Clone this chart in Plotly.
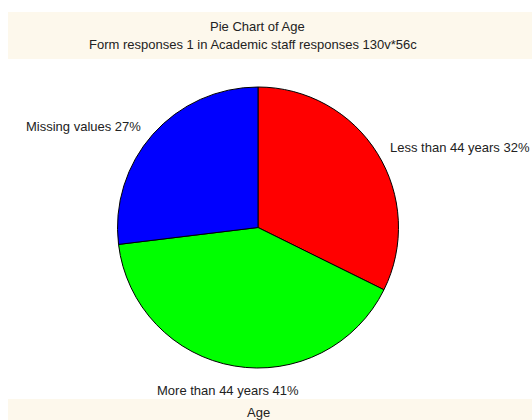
import plotly.graph_objects as go

labels = ["Less than 44 years", "More than 44 years", "Missing values"]
counts = [42, 53, 35]
colors = ["#FF0000", "#00FF00", "#0000FF"]
title = "Pie Chart of Age"
subtitle = "Form responses 1 in Academic staff responses 130v*56c"
xlabel = "Age"

W, H = 532, 420
total = sum(counts)
pct = [round(100 * c / total) for c in counts]

fig = go.Figure(go.Pie(
    labels=labels, values=counts, sort=False, direction="clockwise", rotation=0,
    marker=dict(colors=colors, line=dict(color="#000000", width=1)),
    textinfo="none", hoverinfo="none", showlegend=False,
    domain=dict(x=[117.5 / W, 398.5 / W], y=[(H - 368) / H, (H - 87) / H]),
))

font = dict(family="Liberation Sans, Arial, sans-serif", size=13, color="#222222")
band = "#FDF8EC"
shapes = [
    dict(type="rect", xref="paper", yref="paper", x0=8 / W, x1=1, y0=(H - 59) / H, y1=(H - 12) / H,
         fillcolor=band, line=dict(width=0), layer="below"),
    dict(type="rect", xref="paper", yref="paper", x0=8 / W, x1=1, y0=0, y1=(H - 399) / H,
         fillcolor=band, line=dict(width=0), layer="below"),
]

label_pos = [(460, 147), (227.5, 390), (83, 126)]
annotations = [
    dict(text=title, x=257 / W, y=(H - 27) / H),
    dict(text=subtitle, x=253 / W, y=(H - 45) / H),
    dict(text=xlabel, x=258 / W, y=(H - 412) / H),
]
for lab, p, (px, py) in zip(labels, pct, label_pos):
    annotations.append(dict(text=f"{lab} {p}%", x=px / W, y=(H - py) / H))
for a in annotations:
    a.update(xref="paper", yref="paper", showarrow=False, xanchor="center", yanchor="middle", font=font)

fig.update_layout(
    width=W, height=H, margin=dict(l=0, r=0, t=0, b=0),
    paper_bgcolor="white", plot_bgcolor="white",
    shapes=shapes, annotations=annotations,
)
fig.write_html("out.html", config={"displayModeBar": False},
               post_script="document.body.style.margin='0';document.body.style.overflow='hidden';")
